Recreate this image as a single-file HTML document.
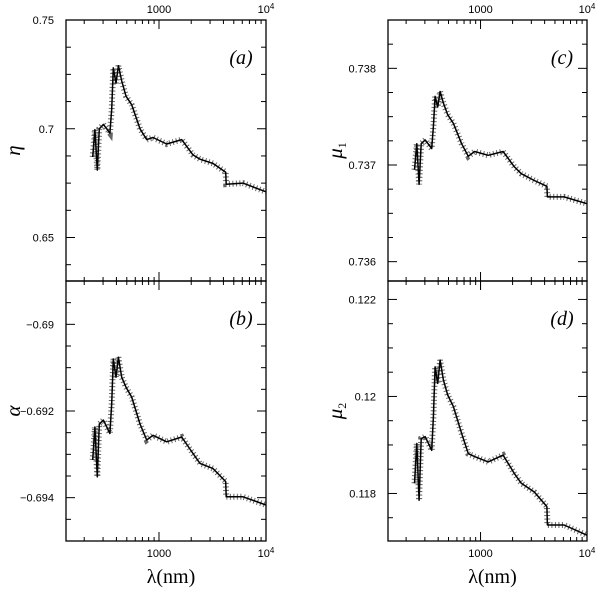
<!DOCTYPE html>
<html><head><meta charset="utf-8"><style>
body{margin:0;background:#fff;}
svg{display:block;font-family:"Liberation Sans",sans-serif;}
</style></head><body>
<svg id="chart" width="600" height="589" viewBox="0 0 600 589" xmlns="http://www.w3.org/2000/svg"></svg>
<script>
const wavelengths=[240,252,265,277,302,348,361,374,396,417,448,492,556,664,767,879,1180,1630,2080,2416,3200,4200,4250,6100,10000];
const etaValues=[0.687,0.6996,0.681,0.70,0.702,0.698,0.709,0.728,0.721,0.729,0.722,0.715,0.711,0.700,0.695,0.696,0.693,0.695,0.688,0.686,0.684,0.680,0.6745,0.675,0.671];
const alphaValues=[-0.69313,-0.69237,-0.69352,-0.6923,-0.69221,-0.69252,-0.69183,-0.6908,-0.69122,-0.69076,-0.69122,-0.69145,-0.69168,-0.6923,-0.69267,-0.69256,-0.69271,-0.6926,-0.69298,-0.69321,-0.69333,-0.69363,-0.69398,-0.69398,-0.69417];
const mu1Values=[0.73695,0.73722,0.7368,0.73722,0.73726,0.73717,0.7374,0.73771,0.7376,0.73776,0.73764,0.73752,0.73743,0.73722,0.73709,0.73714,0.7371,0.73714,0.73698,0.73691,0.73684,0.73678,0.73667,0.73667,0.7366];
const mu2Values=[0.11821,0.11903,0.11786,0.11913,0.11917,0.11889,0.11958,0.12061,0.12027,0.12075,0.12034,0.12003,0.11979,0.11924,0.11882,0.11876,0.11865,0.11879,0.11841,0.11821,0.11803,0.11773,0.11735,0.11735,0.11714];
const etaTicks=["0.75","0.7","0.65"];
const alphaTicks=["−0.69","−0.692","−0.694"];
const mu1Ticks=["0.738","0.737","0.736"];
const mu2Ticks=["0.122","0.12","0.118"];

const NS="http://www.w3.org/2000/svg";
const svg=document.getElementById('chart');
function mk(tag,attrs,parent){const e=document.createElementNS(NS,tag);for(const k in attrs)e.setAttribute(k,attrs[k]);(parent||svg).appendChild(e);return e;}

const panels=[
 {id:'a',x0:66,x1:266,y0:20,y1:281,ymin:0.63,ymax:0.75,major:0.05,minor:0.0125,vals:etaValues,labels:etaTicks,lab:'η',top:true},
 {id:'b',x0:66,x1:266,y0:281,y1:541,ymin:-0.695,ymax:-0.689,major:0.002,minor:0.0005,vals:alphaValues,labels:alphaTicks,lab:'α',top:false},
 {id:'c',x0:388,x1:587,y0:20,y1:281,ymin:0.7358,ymax:0.7385,major:0.001,minor:0.00025,vals:mu1Values,labels:mu1Ticks,lab:'μ',sub:'1',top:true},
 {id:'d',x0:388,x1:587,y0:281,y1:541,ymin:0.11702,ymax:0.12238,major:0.002,minor:0.0005,vals:mu2Values,labels:mu2Ticks,lab:'μ',sub:'2',top:false}
];
panels.forEach(p=>{
  const g=mk('g',{});
  
  
  const lmin=Math.log10(1000)-93/107, lmax=4;
  const X=l=>p.x0+(Math.log10(l)-lmin)/(lmax-lmin)*(p.x1-p.x0);
  const Y=v=>p.y1-(v-p.ymin)/(p.ymax-p.ymin)*(p.y1-p.y0);
  const frame=mk('rect',{x:p.x0,y:p.y0,width:p.x1-p.x0,height:p.y1-p.y0,fill:'none',stroke:'#000','stroke-width':1.3},g);
  
  
  for(let dec=100;dec<=10000;dec*=10){for(let m=1;m<10;m++){const l=dec*m;const x=X(l);if(x<p.x0+0.5||x>p.x1+0.5)continue;const len=(m===1)?9:4;
    mk('line',{x1:x,x2:x,y1:p.y0,y2:p.y0+len,stroke:'#000','stroke-width':1},g);
    mk('line',{x1:x,x2:x,y1:p.y1,y2:p.y1-len,stroke:'#000','stroke-width':1},g);
    if(p.top&&m===1&&l>=1000) mk('line',{x1:x,x2:x,y1:p.y1,y2:p.y1+9,stroke:'#000','stroke-width':1},g);
  }}
  const xl=[[1000,'1000',''],[10000,'10','4']];
  xl.forEach(([l,t,sup])=>{const tx=mk('text',{x:X(l),y:p.top?p.y0-7:p.y1+16,'text-anchor':'middle','font-size':11},g);tx.textContent=t;
    if(sup){const s=mk('tspan',{'font-size':8,dy:-4},tx);s.textContent=sup;}
    });
  const n0=Math.ceil(p.ymin/p.minor-1e-6), n1=Math.floor(p.ymax/p.minor+1e-6);
  for(let n=n0;n<=n1;n++){const v=n*p.minor;const y=Y(v);const isMaj=Math.abs(v/p.major-Math.round(v/p.major))<1e-6;const len=isMaj?9:5;
    mk('line',{x1:p.x0,x2:p.x0+len,y1:y,y2:y,stroke:'#000','stroke-width':1},g);
    mk('line',{x1:p.x1,x2:p.x1-len,y1:y,y2:y,stroke:'#000','stroke-width':1},g);}
  p.labels.forEach(t=>{const v=parseFloat(t.replace('−','-'));const tx=mk('text',{x:p.x0-12,y:Y(v)+4,'text-anchor':'end','font-size':11},g);tx.textContent=t;
    });
  const yx=p.x0-52;
  const yt=mk('text',{x:yx,y:(p.y0+p.y1)/2+6,'text-anchor':'middle','font-size':21,'font-family':'"Liberation Serif",serif','font-style':'italic',transform:`rotate(-90 ${yx} ${(p.y0+p.y1)/2})`},g);
  yt.textContent=p.lab;
  if(p.sub){const s=mk('tspan',{'font-size':12,dy:4,'font-style':'normal'},yt);s.textContent=p.sub;}
  
  const pl=mk('text',{x:p.x1-25,y:p.y0+44,'text-anchor':'middle','font-size':20,'font-family':'"Liberation Serif",serif','font-style':'italic'},g);
  pl.textContent='('+p.id+')';
  
  const pts=wavelengths.map((l,i)=>X(l).toFixed(1)+','+Y(p.vals[i]).toFixed(1)).join(' ');
  const fuzz=mk('polyline',{points:pts,fill:'none',stroke:'#000','stroke-width':6,'stroke-dasharray':'1 2.5','stroke-opacity':0.6},g);
  
  const line=mk('polyline',{points:pts,fill:'none',stroke:'#000','stroke-width':1.5,'stroke-linejoin':'round'},g);
  
  if(!p.top){const xt=mk('text',{x:(p.x0+p.x1)/2+5,y:583,'text-anchor':'middle','font-size':20,'font-family':'"Liberation Serif",serif'},g);
    xt.textContent='λ(nm)';}
});
</script>
</body></html>
